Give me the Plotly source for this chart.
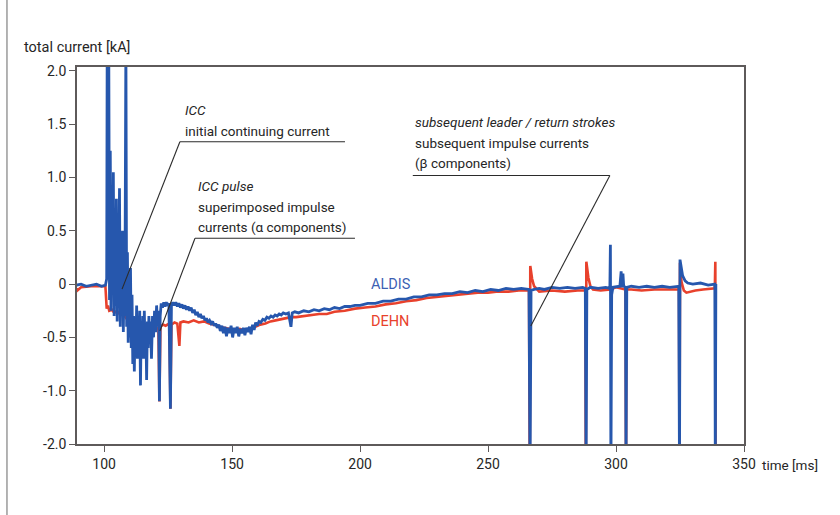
import plotly.graph_objects as go

# ALDIS lightning location system current record (time in ms, current in kA)
aldis_t = [
    89, 91, 93, 95, 97, 99, 100.5,
    101.0, 101.2, 101.5, 101.8, 102.1, 102.4, 102.7, 103.0, 103.3, 103.6, 103.9,
    104.2, 104.5, 104.8, 105.1, 105.4, 105.7, 106.0, 106.3, 106.6, 106.9, 107.2,
    107.5, 107.8, 108.1, 108.5, 108.8, 109.1, 109.4, 109.7, 110.0, 110.3, 110.6,
    110.9, 111.2, 111.5, 111.8, 112.1, 112.4, 112.7, 113.0, 113.3, 113.6, 113.9,
    114.2, 114.5, 114.8, 115.1, 115.4, 115.7, 116.0, 116.3, 116.6, 116.9, 117.2,
    117.5, 117.8, 118.1, 118.5, 118.9, 119.3, 119.7, 120.1, 120.5, 120.9, 121.3,
    121.6, 121.9, 122.3, 122.8, 123.3, 123.8, 124.3, 124.8, 125.3, 125.9, 126.3,
    126.8, 127.4, 128.0, 128.6, 129.2, 129.8, 130.4, 131.0, 131.6, 132.2, 132.8,
    133.4, 134.0, 134.6, 135.2, 135.8, 136.4, 137.0, 137.6, 138.2, 138.8, 139.4,
    140.0, 140.6, 141.2, 141.8, 142.4, 143.0, 143.6, 144.2, 144.8, 145.4, 146.0,
    146.6, 147.2, 147.8, 148.4, 149.0, 149.6, 150.2, 150.8, 151.4, 152.0, 152.6,
    153.2, 153.8, 154.4, 155.0, 155.6, 156.2, 156.8, 157.4, 158.0, 158.6, 159.2,
    159.8, 160.5, 161.2, 162.0, 162.8, 163.6, 164.4, 165.2, 166.0, 166.8, 167.6,
    168.4, 169.2, 170.0, 171.0, 172.0, 173.0, 173.5, 174.5, 176, 178, 180, 182,
    184, 186, 188, 190, 192, 194, 196, 198, 200, 203, 206, 209, 212, 215, 218,
    221, 224, 227, 230, 233, 236, 239, 242, 245, 248, 251, 254, 257, 260, 263,
    266.0, 266.4, 266.8, 268, 270, 272, 275, 278, 281, 284, 287, 288.0, 288.3,
    288.6, 290, 293, 296, 297.6, 297.8, 298.0, 298.3, 298.8, 301.5, 302.0, 302.3,
    302.7, 303.0, 303.7, 303.9, 304.2, 306, 309, 312, 315, 318, 321, 324.5,
    324.8, 325.0, 326, 327, 328, 330, 333, 336, 338.6, 338.8, 339.0,
]
aldis_i = [
    -0.01, 0.0, -0.02, -0.01, 0.0, -0.02, -0.01,
    0.05, 2.3, 0.1, 2.3, -0.15, 1.25, -0.25, 0.55, -0.1, 1.05, -0.3,
    0.35, -0.2, 0.8, -0.35, 0.25, -0.15, 0.9, -0.4, 0.15, -0.3, 0.5,
    -0.45, 0.05, -0.3, 2.3, -0.4, 0.3, -0.55, 0.0, -0.5, 0.15, -0.6,
    -0.1, -0.75, -0.3, -0.82, -0.35, -0.6, -0.2, -0.7, -0.3, -0.65, -0.25,
    -0.95, -0.35, -0.55, -0.3, -0.7, -0.25, -0.6, -0.4, -0.9, -0.35, -0.6,
    -0.3, -0.5, -0.35, -0.7, -0.3, -0.5, -0.25, -0.45, -0.2, -0.4, -0.25,
    -1.1, -0.3, -0.18, -0.22, -0.17, -0.21, -0.17, -0.2, -0.18, -1.17, -0.2,
    -0.17, -0.2, -0.17, -0.21, -0.18, -0.22, -0.19, -0.23, -0.2, -0.24, -0.21,
    -0.25, -0.22, -0.27, -0.24, -0.29, -0.26, -0.31, -0.28, -0.32, -0.3, -0.34,
    -0.32, -0.36, -0.34, -0.37, -0.35, -0.39, -0.37, -0.41, -0.38, -0.44, -0.39,
    -0.46, -0.4, -0.49, -0.41, -0.46, -0.39, -0.5, -0.41, -0.46, -0.4, -0.49,
    -0.42, -0.46, -0.41, -0.48, -0.41, -0.45, -0.4, -0.47, -0.38, -0.43, -0.36,
    -0.39, -0.35, -0.36, -0.33, -0.34, -0.31, -0.32, -0.3, -0.31, -0.29, -0.3,
    -0.28, -0.29, -0.27, -0.28, -0.27, -0.4, -0.27, -0.26, -0.27, -0.25, -0.26, -0.24,
    -0.25, -0.23, -0.24, -0.22, -0.23, -0.21, -0.21, -0.2, -0.2, -0.18, -0.18, -0.16, -0.16, -0.14, -0.14,
    -0.12, -0.12, -0.1, -0.1, -0.09, -0.09, -0.07, -0.08, -0.06, -0.07, -0.05, -0.06, -0.04, -0.05, -0.04,
    -0.05, -1.8, -0.06, -0.05, -0.04, -0.05, -0.03, -0.04, -0.03, -0.04, -0.03, -0.04, -1.8,
    -0.05, -0.03, -0.04, -0.03, -0.04, 0.37, -1.8, -0.1, -0.03, -0.02, 0.12, -0.03,
    0.1, -0.02, -0.03, -1.8, -0.03, -0.02, -0.03, -0.02, -0.03, -0.02, -0.03, -0.02,
    -1.8, 0.23, 0.08, 0.03, 0.01, 0.0, 0.01, -0.01, 0.0, -1.8, 0.0,
]

# DEHN measurement system current record
dehn_t = [
    89, 89.5, 91, 95, 99, 100.5,
    101.0, 101.5, 102.0, 103, 104, 105, 106, 107, 108, 109, 110, 111, 112, 113,
    114, 115, 116, 117, 118, 119, 120, 121.2, 121.6, 122.0, 123, 124, 125.5,
    125.9, 126.3, 127.5, 128.6, 129.4, 129.8, 131, 133, 135, 137, 139, 141, 143,
    145, 147, 149, 151, 153, 155, 157, 159, 161, 163, 165, 167, 169, 171, 173,
    175, 178, 181, 184, 187, 190, 194, 198, 202, 206, 210, 214, 218, 222, 226,
    230, 234, 238, 242, 246, 250, 254, 258, 262, 266.0, 266.3, 266.5, 267.2, 268,
    269, 270, 275, 280, 285, 288.0, 288.2, 288.4, 289.2, 290, 291, 294, 297.8,
    300, 303.7, 303.9, 304.1, 306, 310, 315, 320, 324.6, 324.8, 325.0, 325.6,
    326.5, 327.5, 329, 331, 334, 338.6, 338.8, 338.9,
]
dehn_i = [
    -0.04, -0.06, -0.03, -0.02, -0.02, -0.02,
    -0.23, -0.2, -0.25, -0.24, -0.27, -0.25, -0.28, -0.27, -0.3, -0.33, -0.36, -0.38, -0.42, -0.45,
    -0.5, -0.47, -0.52, -0.48, -0.45, -0.43, -0.42, -0.41, -1.1, -0.4, -0.38, -0.39, -0.37,
    -1.17, -0.38, -0.36, -0.37, -0.58, -0.36, -0.35, -0.36, -0.34, -0.36, -0.35, -0.37, -0.38,
    -0.4, -0.41, -0.42, -0.43, -0.42, -0.44, -0.42, -0.4, -0.38, -0.37, -0.35, -0.34, -0.33, -0.32, -0.31,
    -0.31, -0.3, -0.29, -0.28, -0.28, -0.26, -0.25, -0.23, -0.22, -0.21, -0.19, -0.18, -0.16, -0.15, -0.13,
    -0.12, -0.11, -0.1, -0.09, -0.08, -0.08, -0.07, -0.07, -0.06, -0.06, -1.8, 0.17, 0.05, -0.02,
    -0.05, -0.07, -0.06, -0.07, -0.06, -0.06, -1.8, 0.21, 0.06, -0.02, -0.05, -0.06, -0.05,
    -0.03, -0.05, -1.8, -0.05, -0.05, -0.06, -0.05, -0.05, -0.05, -1.8, 0.2, 0.02,
    -0.06, -0.08, -0.07, -0.06, -0.05, -0.04, 0.21, -1.8,
]

# y axis: the lowest tick carries the label printed on the original scale
y_tickvals = [2.0, 1.5, 1.0, 0.5, 0.0, -0.5, -1.0, -1.5]
y_ticktext = ["2.0", "1.5", "1.0", "0.5", "0", "-0.5", "-1.0", "-2.0"]
x_tickvals = [100, 150, 200, 250, 300, 350]

BLUE = "#2657ad"
RED = "#e8412c"
TXT = "#262626"
AXIS = "#5e5a5a"
FONT = "Roboto, 'Open Sans', sans-serif"

fig = go.Figure()
fig.add_trace(go.Scatter(x=dehn_t, y=dehn_i, mode="lines", name="DEHN",
                         line=dict(color=RED, width=2.6)))
fig.add_trace(go.Scatter(x=aldis_t, y=aldis_i, mode="lines", name="ALDIS",
                         line=dict(color=BLUE, width=2.8)))

ann = []


def label(x, y, text, size=13.5, color=TXT, xanchor="left"):
    ann.append(dict(x=x, y=y, xref="x", yref="y", text=text, showarrow=False,
                    xanchor=xanchor, yanchor="middle",
                    font=dict(family=FONT, size=size, color=color)))


# ICC callout
label(130.8, 1.636, "<i>ICC</i>")
label(130.8, 1.439, "initial continuing current")
# ICC pulse callout
label(135.9, 0.916, "<i>ICC pulse</i>")
label(135.9, 0.72, "superimposed impulse")
label(135.9, 0.533, "currents (\u03b1 components)")
# subsequent strokes callout
label(220.6, 1.523, "<i>subsequent leader / return strokes</i>")
label(220.6, 1.327, "subsequent impulse currents")
label(220.6, 1.14, "(\u03b2 components)")
# series names
label(212.0, 0.0, "ALDIS", size=14.5, color="#3d5fb3", xanchor="center")
label(211.7, -0.35, "DEHN", size=14.5, color=RED, xanchor="center")

# axis titles
ann.append(dict(x=-0.083, y=1.053, xref="paper", yref="paper", text="total current [kA]",
                showarrow=False, xanchor="left", yanchor="middle",
                font=dict(family=FONT, size=14.5, color=TXT)))
ann.append(dict(x=1.024, y=-0.056, xref="paper", yref="paper", text="time [ms]",
                showarrow=False, xanchor="left", yanchor="middle",
                font=dict(family=FONT, size=13.5, color=TXT)))

shapes = []


def seg(x0, y0, x1, y1):
    shapes.append(dict(type="line", xref="x", yref="y", x0=x0, y0=y0, x1=x1, y1=y1,
                       line=dict(color="#2b2b2b", width=1.1)))


# callout underlines and leader lines
seg(129.6, 1.336, 194.1, 1.336)
seg(129.6, 1.336, 107.0, -0.047)
seg(135.5, 0.43, 198.0, 0.43)
seg(135.5, 0.43, 121.8, -0.44)
seg(220.6, 1.019, 297.6, 1.019)
seg(297.6, 1.019, 266.7, -0.393)

# outer page border on the left
shapes.append(dict(type="line", xref="paper", yref="paper", x0=-0.105, x1=-0.105,
                   y0=-0.2, y1=1.2, line=dict(color="#9a9a9a", width=1.5)))

fig.update_layout(
    width=840, height=515,
    margin=dict(l=77, r=96, t=67, b=71),
    paper_bgcolor="white", plot_bgcolor="white",
    showlegend=False,
    annotations=ann, shapes=shapes,
    font=dict(family=FONT, size=14, color=TXT),
)
fig.update_xaxes(range=[89.4, 350], tickvals=x_tickvals, ticks="outside", ticklen=6,
                 tickcolor=AXIS, tickwidth=1.2, showline=True, linecolor=AXIS, linewidth=1.6,
                 mirror=True, showgrid=False, zeroline=False,
                 tickfont=dict(family=FONT, size=14, color=TXT))
fig.update_yaxes(range=[-1.5, 2.037], tickvals=y_tickvals, ticktext=y_ticktext, ticks="outside",
                 ticklen=6, tickcolor=AXIS, tickwidth=1.2, showline=True, linecolor=AXIS,
                 linewidth=1.6, mirror=True, showgrid=False, zeroline=False,
                 tickfont=dict(family=FONT, size=14, color=TXT))

fig.write_html("out.html")
